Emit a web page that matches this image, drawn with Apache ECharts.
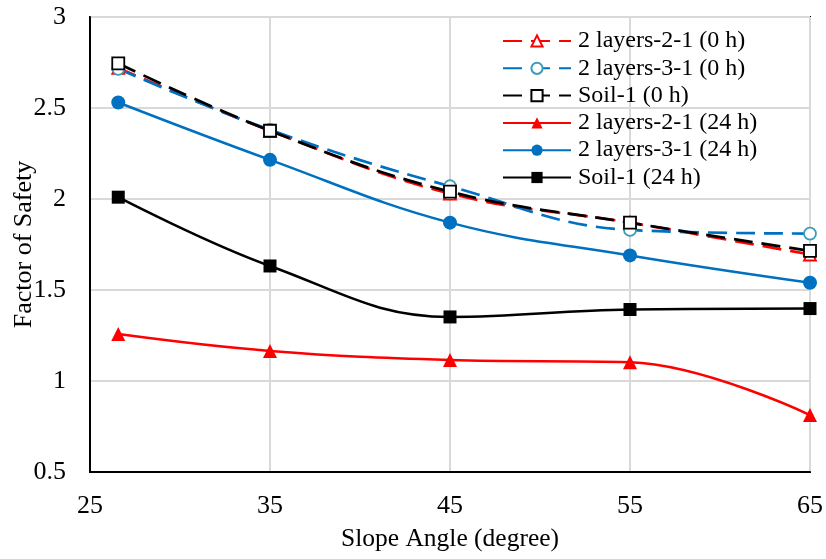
<!DOCTYPE html>
<html>
<head>
<meta charset="utf-8">
<script src="https://cdn.jsdelivr.net/npm/echarts@6/dist/echarts.min.js"></script>
<style>
  html, body { margin: 0; padding: 0; background: #fff; }
  #chart { width: 826px; height: 559px; }
</style>
</head>
<body>
<div id="chart"></div>
<script>
// Slope angles (degrees); 26.57° corresponds to a 1:2 slope
const slopeAngles = [26.57, 35, 45, 55, 65];

// Factor of safety, initial condition (0 h)
const layers221_0h = [2.72, 2.375, 2.03, 1.87, 1.695];
const layers331_0h = [2.715, 2.38, 2.07, 1.83, 1.81];
const soil1_0h     = [2.745, 2.375, 2.04, 1.87, 1.715];

// Factor of safety after 24 h
const layers221_24h = [1.258, 1.165, 1.115, 1.103, 0.813];
const layers331_24h = [2.53, 2.215, 1.87, 1.69, 1.54];
const soil1_24h     = [2.01, 1.632, 1.352, 1.393, 1.398];

const seriesNames = [
  '2 layers-2-1 (0 h)', '2 layers-3-1 (0 h)', 'Soil-1 (0 h)',
  '2 layers-2-1 (24 h)', '2 layers-3-1 (24 h)', 'Soil-1 (24 h)'
];

const FONT = '"Liberation Serif", "Times New Roman", serif';
const RED = '#ff0000', BLUE = '#0070c0', BLACK = '#000000', TEAL = '#3a9cb8';
const SMOOTH = 0.4;

function pairs(vals) {
  return slopeAngles.map((x, i) => [x, vals[i]]);
}

function dashed(name, vals, color, symbol, markerColor) {
  return {
    name, type: 'line', data: pairs(vals), smooth: SMOOTH,
    symbol, symbolSize: 12,
    lineStyle: { color, width: 2.7, type: [19, 9] },
    itemStyle: { color: '#fff', borderColor: markerColor || color, borderWidth: 1.8 },
    emphasis: { disabled: true }
  };
}

function solid(name, vals, color, symbol, size) {
  return {
    name, type: 'line', data: pairs(vals), smooth: SMOOTH,
    symbol, symbolSize: size,
    lineStyle: { color, width: 2.5 },
    itemStyle: { color },
    emphasis: { disabled: true }
  };
}

const chart = echarts.init(document.getElementById('chart'));
chart.setOption({
  animation: false,
  backgroundColor: '#fff',
  grid: {
    left: 90, right: 16, top: 17, bottom: 87,
    containLabel: false, outerBoundsMode: 'none',
    show: true, borderColor: '#000', borderWidth: 2, backgroundColor: 'transparent'
  },
  legend: {
    orient: 'vertical', left: 502, top: 29, padding: 0,
    itemWidth: 68, itemHeight: 14, itemGap: 3.3,
    data: seriesNames,
    textStyle: { fontFamily: FONT, fontSize: 24, lineHeight: 24, color: '#000', padding: [0, 0, 0, 2] }
  },
  xAxis: {
    type: 'value', min: 25, max: 65, interval: 10,
    name: 'Slope Angle (degree)', nameLocation: 'middle', nameGap: 54,
    nameMoveOverlap: false,
    nameTextStyle: { fontFamily: FONT, fontSize: 25.5, color: '#000' },
    axisLine: { show: true, lineStyle: { color: '#000', width: 2 } },
    axisTick: { show: false },
    axisLabel: { fontFamily: FONT, fontSize: 26, color: '#000', margin: 21 },
    splitLine: { show: true, lineStyle: { color: '#d9d9d9', width: 2 } }
  },
  yAxis: {
    type: 'value', min: 0.5, max: 3, interval: 0.5,
    name: 'Factor of Safety', nameLocation: 'middle', nameGap: 53,
    nameMoveOverlap: false,
    nameTextStyle: { fontFamily: FONT, fontSize: 26, color: '#000' },
    axisLine: { show: true, lineStyle: { color: '#000', width: 2 } },
    axisTick: { show: false },
    axisLabel: { fontFamily: FONT, fontSize: 26, color: '#000', margin: 24 },
    splitLine: { show: true, lineStyle: { color: '#d9d9d9', width: 2 } }
  },
  series: [
    solid(seriesNames[3], layers221_24h, RED, 'triangle', 14),
    solid(seriesNames[4], layers331_24h, BLUE, 'circle', 14),
    solid(seriesNames[5], soil1_24h, BLACK, 'rect', 13),
    dashed(seriesNames[0], layers221_0h, RED, 'triangle'),
    dashed(seriesNames[1], layers331_0h, BLUE, 'circle', TEAL),
    dashed(seriesNames[2], soil1_0h, BLACK, 'rect')
  ]
});
</script>
</body>
</html>
